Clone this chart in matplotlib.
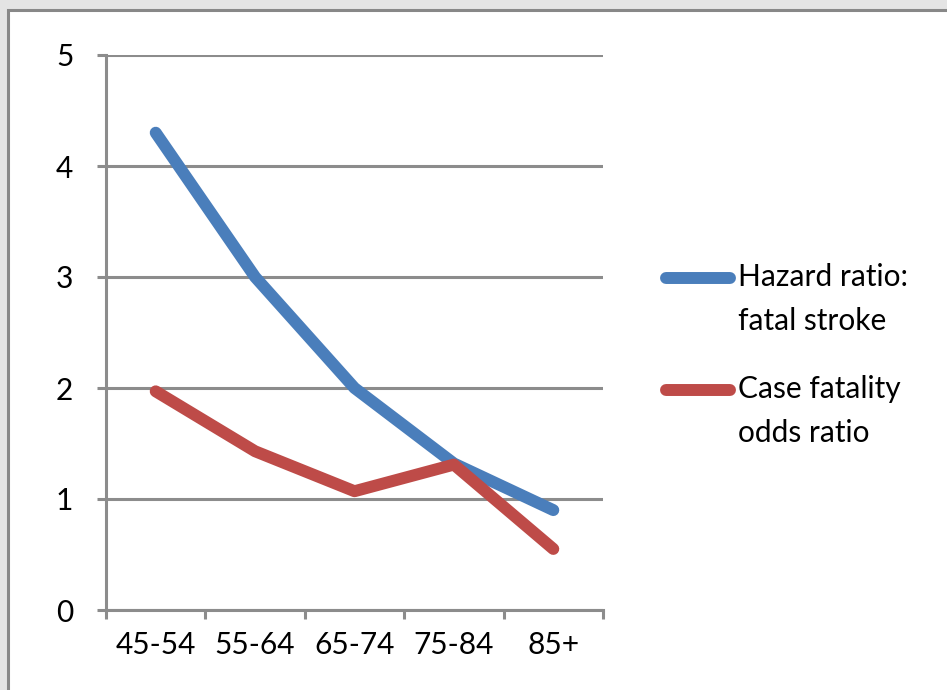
import matplotlib.pyplot as plt
from matplotlib.lines import Line2D
from matplotlib.patches import Rectangle

# data
age_groups = ["45-54", "55-64", "65-74", "75-84", "85+"]
hazard_ratio = [4.3, 3.0, 2.0, 1.32, 0.9]
case_fatality = [1.97, 1.43, 1.07, 1.31, 0.55]
y_ticks = [0, 1, 2, 3, 4, 5]

blue = "#4a7ebb"
red = "#be4b48"
grid_gray = "#8c8c8c"

plt.rcParams['font.family'] = ['Lato', 'DejaVu Sans']

W, H = 947, 690
fig = plt.figure(figsize=(W / 100, H / 100), dpi=100)
fig.patch.set_facecolor("#e4e4e4")

# white slide panel with grey frame
panel = Rectangle((8 / W, -0.05), 1.1, 1 - 10 / H + 0.05, transform=fig.transFigure,
                  facecolor="white", edgecolor="#888888", linewidth=2.2, zorder=0)
fig.add_artist(panel)

ax = fig.add_axes([106 / W, 80 / H, (603 - 106) / W, (610 - 55) / H])
ax.set_facecolor("none")

x = range(len(age_groups))
ax.plot(x, hazard_ratio, color=blue, lw=8.6, solid_capstyle="round",
        solid_joinstyle="round", zorder=3)
ax.plot(x, case_fatality, color=red, lw=8.6, solid_capstyle="round",
        solid_joinstyle="round", zorder=3)

ax.set_xlim(-0.5, len(age_groups) - 0.5)
ax.set_ylim(0, 5)
ax.set_yticks(y_ticks)
ax.set_xticks(list(x))
ax.set_xticklabels(age_groups)
ax.set_xticks([i - 0.5 for i in range(len(age_groups) + 1)], minor=True)

ax.grid(axis="y", color=grid_gray, lw=2.2, zorder=1)
ax.set_axisbelow(True)
for s in ["top", "right"]:
    ax.spines[s].set_visible(False)
for s in ["left", "bottom"]:
    ax.spines[s].set_color(grid_gray)
    ax.spines[s].set_linewidth(2.2)

ax.tick_params(axis="y", length=6.5, width=2.2, color=grid_gray, pad=17,
               labelsize=21.5)
ax.tick_params(axis="x", which="major", length=0, pad=15, labelsize=21.5)
ax.tick_params(axis="x", which="minor", length=6.5, width=2.2, color=grid_gray)

# legend drawn by hand so the key lines sit on the first text line
legend_items = [("Hazard ratio:\nfatal stroke", blue, 278),
                ("Case fatality\nodds ratio", red, 390)]
for label, col, ypx in legend_items:
    fig.add_artist(Line2D([666 / W, 730 / W], [1 - ypx / H] * 2, color=col, lw=8.6,
                          solid_capstyle="round", transform=fig.transFigure))
    fig.text(738 / W, 1 - (ypx - 15) / H, label, fontsize=21.5, va="top",
             ha="left", linespacing=1.7)

fig.savefig("out.png", dpi=100)
